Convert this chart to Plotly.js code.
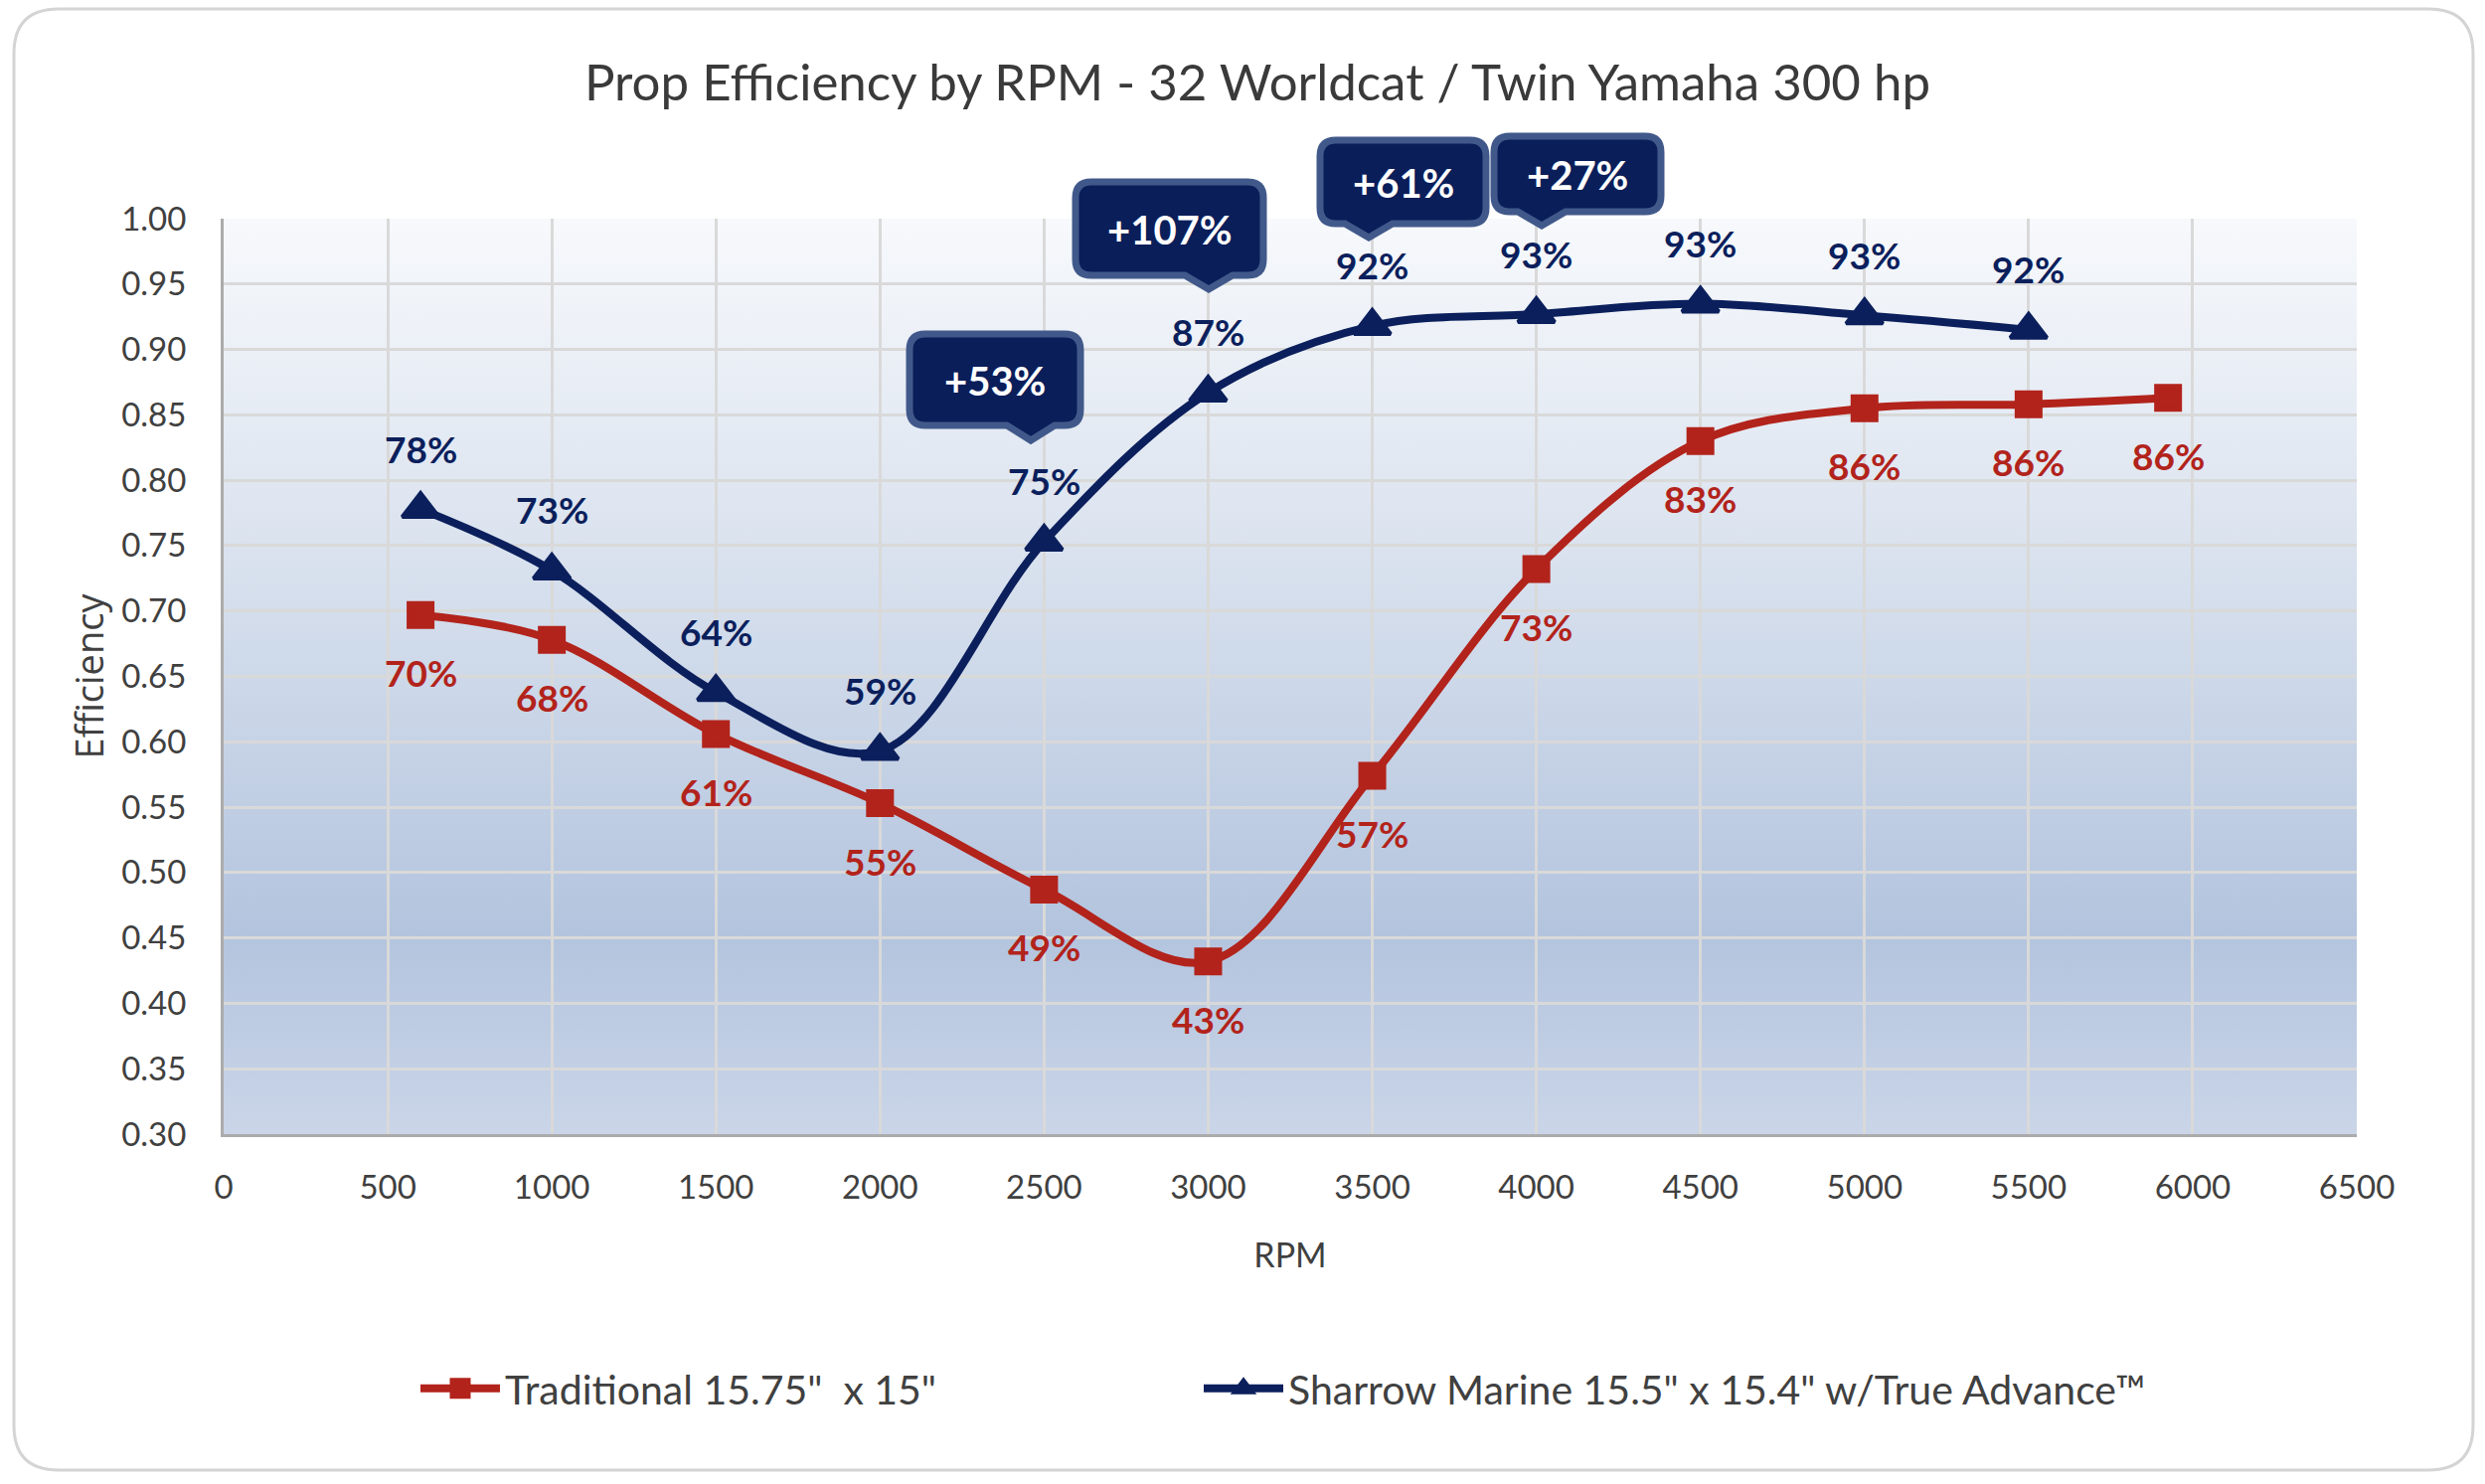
<!DOCTYPE html>
<html>
<head>
<meta charset="utf-8">
<script src="https://cdn.plot.ly/plotly-3.0.1.min.js"></script>
<style>
  html, body { margin: 0; padding: 0; background: #fff; }
  #chart { width: 2500px; height: 1493px; }
</style>
</head>
<body>
<div id="chart"></div>
<script>
// ---- data ----
var rpmTraditional = [600, 1000, 1500, 2000, 2500, 3000, 3500, 4000, 4500, 5000, 5500, 5925];
var effTraditional = [0.697, 0.678, 0.606, 0.553, 0.487, 0.432, 0.574, 0.732, 0.830, 0.855, 0.858, 0.863];
var lblTraditional = ['70%', '68%', '61%', '55%', '49%', '43%', '57%', '73%', '83%', '86%', '86%', '86%'];

var rpmSharrow = [600, 1000, 1500, 2000, 2500, 3000, 3500, 4000, 4500, 5000, 5500];
var effSharrow = [0.778, 0.731, 0.638, 0.593, 0.753, 0.867, 0.918, 0.927, 0.935, 0.926, 0.915];
var lblSharrow = ['78%', '73%', '64%', '59%', '75%', '87%', '92%', '93%', '93%', '93%', '92%'];

var gainLabels = ['+53%', '+107%', '+61%', '+27%'];

// ---- layout constants (canvas pixels) ----
var W = 2500, H = 1493;
var M = { l: 225, r: 129, t: 220, b: 352 };
var plotW = W - M.l - M.r, plotH = H - M.t - M.b;

var NAVY = '#0b1f5c';
var RED = '#b2231b';
var GREY = '#404040';

function px2paperX(px) { return (px - M.l) / plotW; }
function px2paperY(py) { return (H - M.b - py) / plotH; }
// point relative to the bottom-left corner of the plot, y going up (pixel sizemode)
function P(x, y) { return (x - M.l).toFixed(1) + ',' + (H - M.b - y).toFixed(1); }

function roundRect(x0, y0, x1, y1, r, tail) {
  var d = 'M' + P(x0 + r, y0) + ' L' + P(x1 - r, y0) + ' Q' + P(x1, y0) + ' ' + P(x1, y0 + r) +
    ' L' + P(x1, y1 - r) + ' Q' + P(x1, y1) + ' ' + P(x1 - r, y1);
  if (tail) {
    d += ' L' + P(tail.x + tail.w, y1) + ' L' + P(tail.x, tail.y) + ' L' + P(tail.x - tail.w, y1);
  }
  d += ' L' + P(x0 + r, y1) + ' Q' + P(x0, y1) + ' ' + P(x0, y1 - r) +
    ' L' + P(x0, y0 + r) + ' Q' + P(x0, y0) + ' ' + P(x0 + r, y0) + ' Z';
  return d;
}

// callout boxes (canvas pixels): box edges and tail tip
var calloutBoxes = [
  { x0: 915, y0: 336, x1: 1087, y1: 428, tx: 1037, ty: 443 },
  { x0: 1082, y0: 183, x1: 1271, y1: 277, tx: 1216, ty: 291 },
  { x0: 1328, y0: 141, x1: 1495, y1: 225, tx: 1377, ty: 239 },
  { x0: 1503, y0: 137, x1: 1671, y1: 213, tx: 1551, ty: 227 }
];

var shapes = [];
var annotations = [];

// outer rounded frame
shapes.push({
  type: 'path', xref: 'paper', yref: 'paper', xsizemode: 'pixel', ysizemode: 'pixel',
  xanchor: 0, yanchor: 0, layer: 'below',
  path: roundRect(14, 9, 2488, 1479, 45),
  fillcolor: 'rgba(0,0,0,0)', line: { color: '#d4d4d4', width: 3 }
});

calloutBoxes.forEach(function (b, i) {
  shapes.push({
    type: 'path', xref: 'paper', yref: 'paper', xsizemode: 'pixel', ysizemode: 'pixel',
    xanchor: 0, yanchor: 0, layer: 'above',
    path: roundRect(b.x0, b.y0, b.x1, b.y1, 16, { x: b.tx, y: b.ty, w: 24 }),
    fillcolor: '#0a1e5a', line: { color: '#41598a', width: 7 }
  });
  annotations.push({
    xref: 'paper', yref: 'paper',
    x: px2paperX((b.x0 + b.x1) / 2), y: px2paperY((b.y0 + b.y1) / 2 + 1),
    xanchor: 'center', yanchor: 'middle', showarrow: false,
    text: '<b>' + gainLabels[i] + '</b>',
    font: { family: 'Lato, sans-serif', size: 40, color: '#ffffff' }
  });
});

// data labels
rpmSharrow.forEach(function (x, i) {
  annotations.push({
    x: x, y: effSharrow[i], xref: 'x', yref: 'y', showarrow: false, yshift: 61,
    text: '<b>' + lblSharrow[i] + '</b>',
    font: { family: 'Lato, sans-serif', size: 37, color: NAVY }
  });
});
rpmTraditional.forEach(function (x, i) {
  annotations.push({
    x: x, y: effTraditional[i], xref: 'x', yref: 'y', showarrow: false, yshift: -58,
    text: '<b>' + lblTraditional[i] + '</b>',
    font: { family: 'Lato, sans-serif', size: 37, color: RED }
  });
});

// vertical gradient of the plot area
var bgSvg = '<svg xmlns="http://www.w3.org/2000/svg" width="100" height="100" preserveAspectRatio="none">' +
  '<defs><linearGradient id="g" x1="0" y1="0" x2="0" y2="1">' +
  '<stop offset="0" stop-color="#f7f9fc"/>' +
  '<stop offset="0.35" stop-color="#dbe3ef"/>' +
  '<stop offset="0.78" stop-color="#b3c4de"/>' +
  '<stop offset="1" stop-color="#cad5e8"/>' +
  '</linearGradient></defs><rect width="100" height="100" fill="url(#g)"/></svg>';

var traces = [
  {
    type: 'scatter', mode: 'lines+markers', name: 'Traditional 15.75"  x 15"',
    x: rpmTraditional, y: effTraditional, legend: 'legend', showlegend: true,
    line: { color: RED, width: 8, shape: 'spline', smoothing: 1 },
    marker: { symbol: 'square', size: 23, color: RED, line: { color: RED, width: 5 } },
    hoverinfo: 'skip'
  },
  {
    type: 'scatter', mode: 'lines+markers', name: 'Sharrow Marine 15.5" x 15.4" w/True Advance™',
    x: rpmSharrow, y: effSharrow, legend: 'legend2', showlegend: true,
    line: { color: NAVY, width: 8, shape: 'spline', smoothing: 1 },
    marker: { symbol: 'triangle-up', size: 32, color: NAVY, line: { color: NAVY, width: 4 } },
    hoverinfo: 'skip'
  }
];

function legendAt(px) {
  return {
    visible: true,
    orientation: 'h', x: px2paperX(px), xanchor: 'left', y: px2paperY(1397), yanchor: 'middle',
    itemwidth: 80,
    font: { family: 'Lato, sans-serif', size: 41, color: GREY },
    bgcolor: 'rgba(0,0,0,0)'
  };
}

var layout = {
  width: W, height: H,
  margin: M,
  showlegend: true,
  paper_bgcolor: '#ffffff',
  plot_bgcolor: 'rgba(0,0,0,0)',
  font: { family: 'Lato, sans-serif', color: GREY },
  title: {
    text: 'Prop Efficiency by RPM - 32 Worldcat / Twin Yamaha 300 hp',
    x: 0.506, xanchor: 'center', y: 1 - 83 / H, yanchor: 'middle',
    font: { family: 'Lato, sans-serif', size: 51, color: '#3a3a3a' }
  },
  xaxis: {
    range: [0, 6500], dtick: 500, tick0: 0,
    showgrid: true, gridcolor: '#d9d9d9', gridwidth: 3,
    showline: true, linecolor: '#ababab', linewidth: 3,
    zeroline: false, ticks: '', ticklabelstandoff: 22,
    tickfont: { family: 'Lato, sans-serif', size: 33, color: GREY },
    title: { text: 'RPM', standoff: 40, font: { family: 'Lato, sans-serif', size: 34, color: GREY } }
  },
  yaxis: {
    range: [0.3, 1.0], dtick: 0.05, tick0: 0.3, tickformat: '.2f',
    showgrid: true, gridcolor: '#d9d9d9', gridwidth: 3,
    showline: true, linecolor: '#ababab', linewidth: 3,
    zeroline: false, ticks: '', ticklabelstandoff: 28,
    tickfont: { family: 'Lato, sans-serif', size: 33, color: GREY },
    title: { text: 'Efficiency', standoff: 6, font: { family: '"Open Sans", sans-serif', size: 38, color: GREY } }
  },
  legend: legendAt(418),
  legend2: legendAt(1206),
  images: [{
    source: 'data:image/svg+xml;charset=utf-8,' + encodeURIComponent(bgSvg),
    xref: 'paper', yref: 'paper', x: 0, y: 1, sizex: 1, sizey: 1,
    xanchor: 'left', yanchor: 'top', sizing: 'stretch', layer: 'below'
  }],
  shapes: shapes,
  annotations: annotations,
  hovermode: false
};

Plotly.newPlot('chart', traces, layout, { displayModeBar: false, staticPlot: true });
</script>
</body>
</html>
